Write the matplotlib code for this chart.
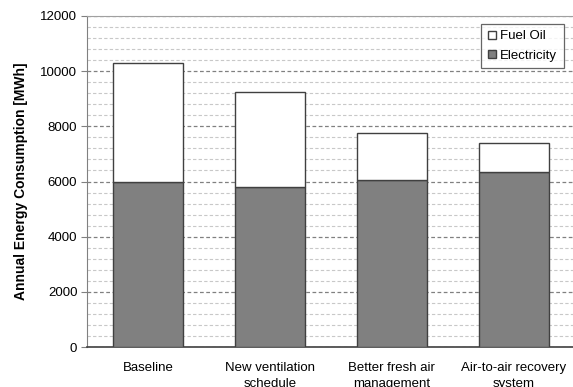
import numpy as np
import matplotlib.pyplot as plt
from matplotlib.ticker import MultipleLocator

plt.rcParams['font.family'] = ['Liberation Sans', 'DejaVu Sans']

# Annual energy use per retrofit scenario [MWh]
scenarios = ['Baseline', 'New ventilation\nschedule', 'Better fresh air\nmanagement',
             'Air-to-air recovery\nsystem']
electricity = [6000, 5800, 6050, 6330]
fuel_oil = [4300, 3450, 1700, 1070]

fig = plt.figure(figsize=(5.73, 3.87), dpi=100)
ax = fig.add_axes([0.152, 0.103, 0.851, 0.856])

x = np.arange(len(scenarios))
w = 0.57
ax.bar(x, electricity, w, color='#808080', edgecolor='#404040', linewidth=1.0,
       label='Electricity', zorder=3)
ax.bar(x, fuel_oil, w, bottom=electricity, color='white', edgecolor='#404040',
       linewidth=1.0, label='Fuel Oil', zorder=3)

ax.set_xlim(-0.5, len(scenarios) - 0.5)
ax.set_ylim(0, 12000)
ax.yaxis.set_major_locator(MultipleLocator(2000))
ax.yaxis.set_minor_locator(MultipleLocator(400))
ax.grid(which='major', axis='y', color='#808080', linestyle=(0, (3, 2)), linewidth=0.9, zorder=0)
ax.grid(which='minor', axis='y', color='#c8c8c8', linestyle=(0, (3, 2)), linewidth=0.8, zorder=0)

ax.set_xticks(x)
ax.set_xticklabels(scenarios, fontsize=9.5, linespacing=1.45)
ax.tick_params(axis='x', length=0, pad=11)
ax.tick_params(axis='y', which='major', length=4, direction='out', color='#808080',
               labelsize=9.5, pad=3)
ax.tick_params(axis='y', which='minor', length=0)

ax.set_ylabel('Annual Energy Consumption [MWh]', fontsize=10, fontweight='bold', labelpad=9)

for side in ['top', 'right']:
    ax.spines[side].set_color('#a0a0a0')
ax.spines['left'].set_color('#808080')
ax.spines['bottom'].set_color('#404040')
ax.spines['bottom'].set_linewidth(1.2)

handles, labels = ax.get_legend_handles_labels()
leg = ax.legend(handles[::-1], labels[::-1], loc='upper right', bbox_to_anchor=(0.977, 0.976),
                fontsize=9.5, frameon=True, fancybox=False, edgecolor='#404040',
                handlelength=0.6, handleheight=0.6, handletextpad=0.3, borderpad=0.5,
                labelspacing=0.55, borderaxespad=0)
leg.get_frame().set_linewidth(0.9)

fig.savefig('out.png', dpi=100, facecolor='white')
